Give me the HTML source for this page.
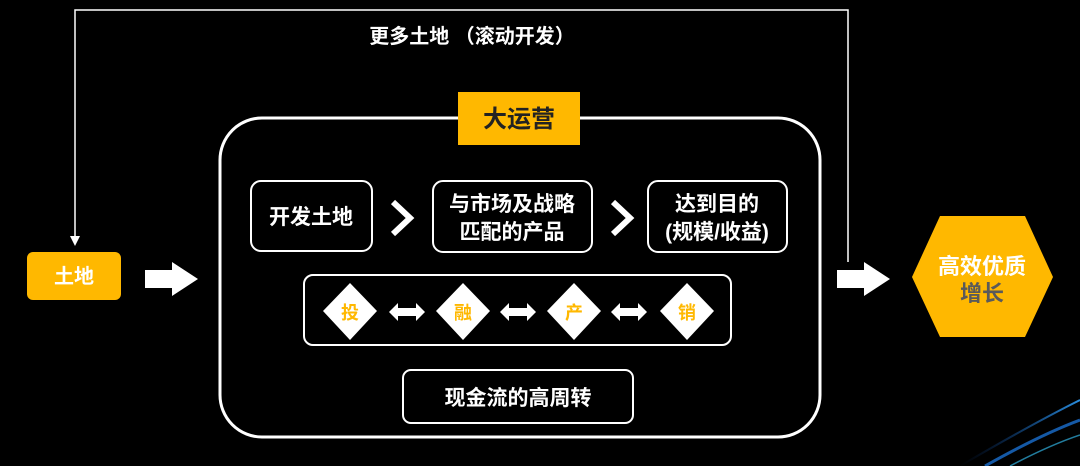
<!DOCTYPE html>
<html><head><meta charset="utf-8"><style>
body{margin:0;width:1080px;height:466px;background:#000;overflow:hidden;font-family:"Liberation Sans","Noto Sans CJK SC",sans-serif;}
svg{position:absolute;left:0;top:0}
text{font-family:"Liberation Sans","Noto Sans CJK SC",sans-serif;}
</style></head><body>
<svg width="1080" height="466" viewBox="0 0 1080 466">
<defs><linearGradient id="g" x1="0" x2="1"><stop offset="0" stop-color="#0a3a8a" stop-opacity="0"/><stop offset="1" stop-color="#2a8fe0"/></linearGradient></defs>
<path d="M960 466 Q1030 425 1080 400" stroke="url(#g)" stroke-width="2" fill="none"/>
<path d="M985 466 Q1040 435 1080 420" stroke="#1a6fd0" stroke-width="3" fill="none" opacity="0.8"/>
<path d="M1010 466 Q1050 445 1080 435" stroke="#30b0e0" stroke-width="1.5" fill="none" opacity="0.7"/>
<polyline points="75,238 75,10 848,10 848,262" fill="none" stroke="#fff" stroke-width="1.5"/>
<polygon points="70,236 80,236 75,246" fill="#fff"/>
<text x="472" y="43" fill="#fff" font-size="20" font-weight="bold" text-anchor="middle">更多土地 （滚动开发）</text>
<rect x="27" y="252" width="94" height="48" rx="6" fill="#FFB800"/>
<text x="74" y="283" fill="#fff" font-size="20" font-weight="bold" text-anchor="middle">土地</text>
<polygon points="145,270 172,270 172,262 198,279 172,296 172,288 145,288" fill="#fff"/>
<polygon points="837,270 864,270 864,262 890,279 864,296 864,288 837,288" fill="#fff"/>
<rect x="220" y="118" width="600" height="319" rx="42" fill="none" stroke="#fff" stroke-width="3"/>
<rect x="458" y="92" width="122" height="53" fill="#FFB800"/>
<text x="519" y="127" fill="#222" font-size="24" font-weight="bold" text-anchor="middle">大运营</text>
<g fill="none" stroke="#fff" stroke-width="2">
<rect x="251" y="181" width="121" height="70" rx="10"/>
<rect x="433" y="181" width="159" height="71" rx="10"/>
<rect x="648" y="181" width="139" height="71" rx="10"/>
<rect x="304" y="275" width="427" height="70" rx="9"/>
<rect x="403" y="370" width="230" height="53" rx="8"/>
</g>
<g stroke="#fff" stroke-width="6" fill="none" stroke-linejoin="miter">
<polyline points="393,202 410,218 393,234"/>
<polyline points="613,202 630,218 613,234"/>
</g>
<g fill="#fff" font-size="21" font-weight="bold" text-anchor="middle">
<text x="311" y="224">开发土地</text>
<text x="512" y="211">与市场及战略</text>
<text x="512" y="239">匹配的产品</text>
<text x="717" y="211">达到目的</text>
<text x="717" y="239">(规模/收益)</text>
<text x="518" y="405">现金流的高周转</text>
</g>
<g fill="#fff">
<polygon points="350,283 377,311 350,340 323,311"/>
<polygon points="463,283 490,311 463,340 436,311"/>
<polygon points="574,283 601,311 574,340 547,311"/>
<polygon points="687,283 714,311 687,340 660,311"/>
<polygon points="389,312 398,303 398,308 416,308 416,303 425,312 416,321 416,316 398,316 398,321"/>
<polygon points="500,312 509,303 509,308 527,308 527,303 536,312 527,321 527,316 509,316 509,321"/>
<polygon points="611,312 620,303 620,308 638,308 638,303 647,312 638,321 638,316 620,316 620,321"/>
</g>
<g fill="#FFB800" font-size="18" font-weight="bold" text-anchor="middle">
<text x="350" y="319">投</text><text x="463" y="319">融</text><text x="574" y="319">产</text><text x="687" y="319">销</text>
</g>
<polygon points="912,277 940,216 1025,216 1053,277 1025,337 940,337" fill="#FFB800"/>
<text x="982" y="274" fill="#fff" font-size="22" font-weight="bold" text-anchor="middle">高效优质</text>
<text x="982" y="301" fill="#5a5a5a" font-size="22" font-weight="bold" text-anchor="middle">增长</text>
</svg>
</body></html>
